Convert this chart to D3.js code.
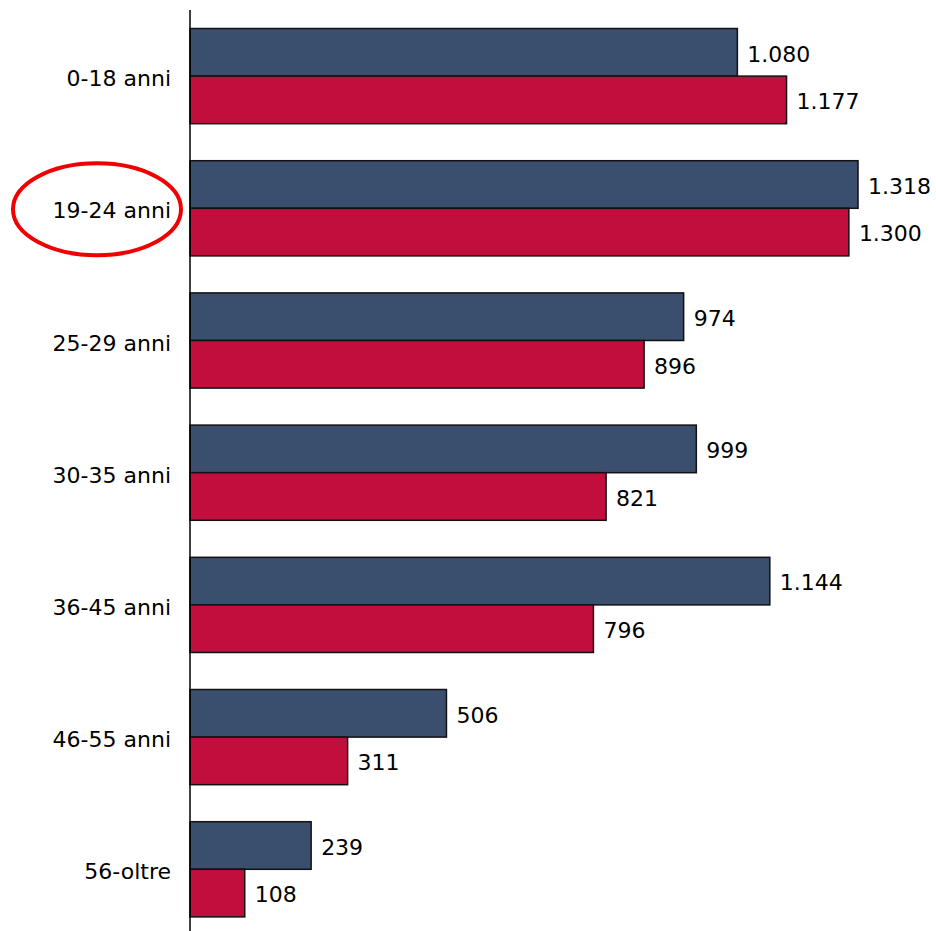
<!DOCTYPE html>
<html>
<head>
<meta charset="utf-8">
<script src="https://cdn.jsdelivr.net/npm/d3@7"></script>
<style>
html,body{margin:0;padding:0;background:#fff;}
svg{display:block;}
text{font-family:"DejaVu Sans",Verdana,sans-serif;}
</style>
</head>
<body>
<svg id="chart" width="936" height="931"></svg>
<script>
const categories = ["0-18 anni","19-24 anni","25-29 anni","30-35 anni","36-45 anni","46-55 anni","56-oltre"];
const seriesBlue = [1080,1318,974,999,1144,506,239];
const seriesRed = [1177,1300,896,821,796,311,108];
const highlighted = "19-24 anni";

const svg = d3.select("#chart");
const W = 936, H = 931;
const x0 = 190;

const y = d3.scaleBand().domain(categories).range([10, 935.4]).paddingInner(0.28).paddingOuter(0.14);
const x = d3.scaleLinear().domain([0, 1318]).range([x0, 858]);
const sub = d3.scaleBand().domain(["blue","red"]).range([0, y.bandwidth()]);
const color = {blue:"#3A4E6D", red:"#C20E3C"};
const fmt = d3.formatLocale({decimal:",", thousands:".", grouping:[3], currency:["","€"]}).format(",d");

const rows = categories.map((c,i)=>({cat:c, vals:[{k:"blue",v:seriesBlue[i]},{k:"red",v:seriesRed[i]}]}));

const g = svg.selectAll("g.grp").data(rows).join("g").attr("class","grp")
  .attr("transform", d=>`translate(0,${y(d.cat)})`);

g.selectAll("rect").data(d=>d.vals).join("rect")
  .attr("x", x(0))
  .attr("y", d=>sub(d.k))
  .attr("width", d=>x(d.v)-x(0))
  .attr("height", sub.bandwidth())
  .attr("fill", d=>color[d.k])
  .attr("stroke", "#111")
  .attr("stroke-width", 1.5);

g.selectAll("text.val").data(d=>d.vals).join("text").attr("class","val")
  .attr("x", d=>x(d.v)+10)
  .attr("y", d=>sub(d.k)+sub.bandwidth()/2)
  .attr("dy","0.42em")
  .attr("font-size", 22)
  .attr("fill","#000")
  .text(d=>fmt(d.v));

// axis
const axis = d3.axisLeft(y).tickSize(0).tickPadding(19);
const ax = svg.append("g").attr("transform",`translate(${x0},0)`).call(axis);
ax.select(".domain").remove();
ax.selectAll("text").attr("font-size",22).attr("fill","#000").attr("dy","0.46em")
  .attr("font-family","DejaVu Sans, Verdana, sans-serif");
svg.append("line").attr("x1",x0).attr("x2",x0).attr("y1",10).attr("y2",H).attr("stroke","#000").attr("stroke-width",1.5);

// highlight ellipse
const hy = y(highlighted) + y.bandwidth()/2;
svg.append("ellipse").attr("cx",97).attr("cy",hy+1).attr("rx",84).attr("ry",46)
  .attr("fill","none").attr("stroke","#F00000").attr("stroke-width",4);
</script>
</body>
</html>
